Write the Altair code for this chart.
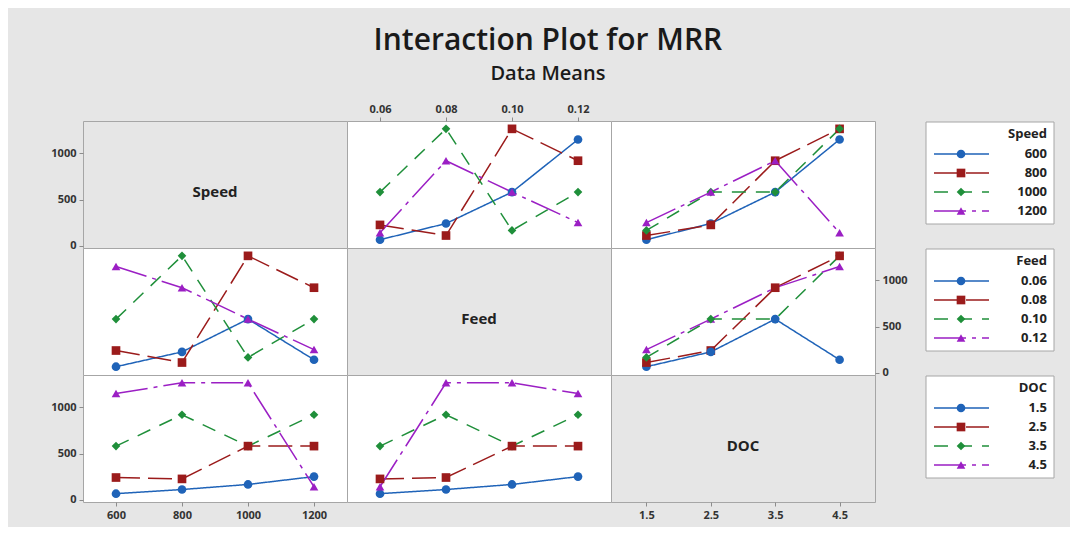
import altair as alt
import pandas as pd

# ---- data: 16 runs (L16 design) ----
speed = [600, 600, 600, 600, 800, 800, 800, 800, 1000, 1000, 1000, 1000, 1200, 1200, 1200, 1200]
feed = [0.06, 0.08, 0.10, 0.12, 0.06, 0.08, 0.10, 0.12, 0.06, 0.08, 0.10, 0.12, 0.06, 0.08, 0.10, 0.12]
doc = [1.5, 2.5, 3.5, 4.5, 2.5, 1.5, 4.5, 3.5, 3.5, 4.5, 1.5, 2.5, 4.5, 3.5, 2.5, 1.5]
mrr = [65, 240, 580, 1150, 225, 110, 1265, 920, 580, 1265, 165, 580, 140, 920, 580, 250]

factors = ["Speed", "Feed", "DOC"]
speed_levels = ["600", "800", "1000", "1200"]
feed_levels = ["0.06", "0.08", "0.10", "0.12"]
doc_levels = ["1.5", "2.5", "3.5", "4.5"]
speed_ticks = [600, 800, 1000, 1200]
feed_ticks = [0.06, 0.08, 0.10, 0.12]
doc_ticks = [1.5, 2.5, 3.5, 4.5]
mrr_ticks = [0, 500, 1000]

title_text = "Interaction Plot for MRR"
subtitle_text = "Data Means"

# ---- styling ----
FONT = "Open Sans"
colors = ["#1f63b8", "#9b1b1b", "#1f8f3a", "#9b1fc4"]
shapes = ["circle", "square", "diamond", "triangle-up"]
dashes = [[1, 0], [24, 8], [14, 10], [32, 6, 4, 6]]
BORDER = "#a6a6a6"
BG = "#e6e6e6"
W, H, LW = 264, 127, 190
MSIZE = 75

levels = {"Speed": speed_levels, "Feed": feed_levels, "DOC": doc_levels}
xticks = {"Speed": speed_ticks, "Feed": feed_ticks, "DOC": doc_ticks}
xdom = {"Speed": [500, 1300], "Feed": [0.05, 0.13], "DOC": [0.95, 5.05]}
xfmt = {"Speed": "d", "Feed": ".2f", "DOC": ".1f"}

df = pd.DataFrame({"Speed": speed, "Feed": feed, "DOC": doc, "MRR": mrr})
df["Speed_l"] = df["Speed"].astype(str)
df["Feed_l"] = df["Feed"].map(lambda v: f"{v:.2f}")
df["DOC_l"] = df["DOC"].map(lambda v: f"{v:.1f}")


def xenc(c, orient=""):
    sc = alt.Scale(domain=xdom[c], nice=False, zero=False)
    if orient:
        return alt.X(f"{c}:Q", scale=sc,
                     axis=alt.Axis(values=xticks[c], format=xfmt[c], orient=orient, title=""))
    return alt.X(f"{c}:Q", scale=sc, axis=None)


def yenc(orient=""):
    sc = alt.Scale(domain=[-25, 1350], nice=False, zero=False)
    if orient:
        return alt.Y("MRR:Q", scale=sc,
                     axis=alt.Axis(values=mrr_ticks, format="d", orient=orient, title=""))
    return alt.Y("MRR:Q", scale=sc, axis=None)


def cscale(f):
    return alt.Scale(domain=levels[f], range=colors)


def data_panel(r, c, xo="", yo=""):
    base = alt.Chart(df).encode(
        x=xenc(c, xo), y=yenc(yo),
        color=alt.Color(f"{r}_l:N", scale=cscale(r), legend=None),
    )
    line = base.mark_line(strokeWidth=1.5).encode(
        strokeDash=alt.StrokeDash(f"{r}_l:N", scale=alt.Scale(domain=levels[r], range=dashes), legend=None)
    )
    pts = base.mark_point(filled=True, size=MSIZE, opacity=1).encode(
        shape=alt.Shape(f"{r}_l:N", scale=alt.Scale(domain=levels[r], range=shapes), legend=None)
    )
    return alt.layer(line, pts).properties(
        width=W, height=H, view=alt.ViewBackground(fill="white", stroke=BORDER)
    )


def diag_panel(f, xo="", yo=""):
    ghost = alt.Chart(df).mark_point(opacity=0).encode(x=xenc(f, xo), y=yenc(yo))
    lbl = alt.Chart(pd.DataFrame({"name": [f]})).mark_text(
        fontSize=15, fontWeight="bold", font=FONT, color="#222222", baseline="middle"
    ).encode(text="name:N", x=alt.value(W / 2), y=alt.value(71))
    return alt.layer(ghost, lbl).properties(
        width=W, height=H, view=alt.ViewBackground(fill=BG, stroke=BORDER)
    )


def legend_cell(f):
    ld = pd.DataFrame({"lbl": levels[f]})
    one = pd.DataFrame({"t": [f]})
    yl = alt.Y("lbl:N", sort=levels[f],
               scale=alt.Scale(type="point", range=[33, 90], padding=0), axis=None)
    col = alt.Color("lbl:N", scale=cscale(f), legend=None)
    box = alt.Chart(one).mark_rect(fill="white", stroke=BORDER, strokeWidth=1).encode(
        x=alt.value(51), x2=alt.value(179), y=alt.value(1), y2=alt.value(103)
    )
    ttl = alt.Chart(one).mark_text(
        align="right", baseline="middle", fontWeight="bold", fontSize=13, font=FONT, color="#222222"
    ).encode(text="t:N", x=alt.value(172), y=alt.value(13))
    rule = alt.Chart(ld).mark_rule(strokeWidth=1.5).encode(
        x=alt.value(59), x2=alt.value(114), y=yl, color=col,
        strokeDash=alt.StrokeDash("lbl:N", scale=alt.Scale(domain=levels[f], range=dashes), legend=None),
    )
    pts = alt.Chart(ld).mark_point(filled=True, size=MSIZE, opacity=1).encode(
        x=alt.value(86), y=yl, color=col,
        shape=alt.Shape("lbl:N", scale=alt.Scale(domain=levels[f], range=shapes), legend=None),
    )
    txt = alt.Chart(ld).mark_text(
        align="right", baseline="middle", fontSize=13, fontWeight="bold", font=FONT, color="#222222"
    ).encode(x=alt.value(172), y=yl, text="lbl:N")
    return alt.layer(box, ttl, rule, pts, txt).properties(
        width=LW, height=H, view=alt.ViewBackground(fill="transparent", stroke="transparent")
    )


cells = [
    diag_panel("Speed", yo="left"),
    data_panel("Speed", "Feed", xo="top"),
    data_panel("Speed", "DOC"),
    legend_cell("Speed"),
    data_panel("Feed", "Speed"),
    diag_panel("Feed"),
    data_panel("Feed", "DOC", yo="right"),
    legend_cell("Feed"),
    data_panel("DOC", "Speed", xo="bottom", yo="left"),
    data_panel("DOC", "Feed"),
    diag_panel("DOC", xo="bottom"),
    legend_cell("DOC"),
]

chart = alt.concat(
    *cells, columns=4, spacing=0, bounds="flush", align="each"
).resolve_scale(
    color="independent", shape="independent", strokeDash="independent",
    x="independent", y="independent",
).properties(
    title=alt.TitleParams(
        text=title_text, subtitle=subtitle_text, anchor="middle",
        font=FONT, fontSize=30, fontWeight=600, color="#1a1a1a",
        subtitleFont=FONT, subtitleFontSize=20, subtitleFontWeight=600,
        subtitleColor="#1a1a1a", subtitlePadding=8, offset=19, dx=-10,
    ),
    padding={"left": 42, "top": 17, "right": 4, "bottom": 6},
).configure(
    background=BG, font=FONT
).configure_axis(
    labelFont=FONT, labelFontSize=11, labelFontWeight="bold", labelColor="#333333",
    tickColor="#8c8c8c", tickSize=4, domain=False, grid=False, labelPadding=3,
)

chart.save("out.html", embed_options={"renderer": "svg", "actions": False})
